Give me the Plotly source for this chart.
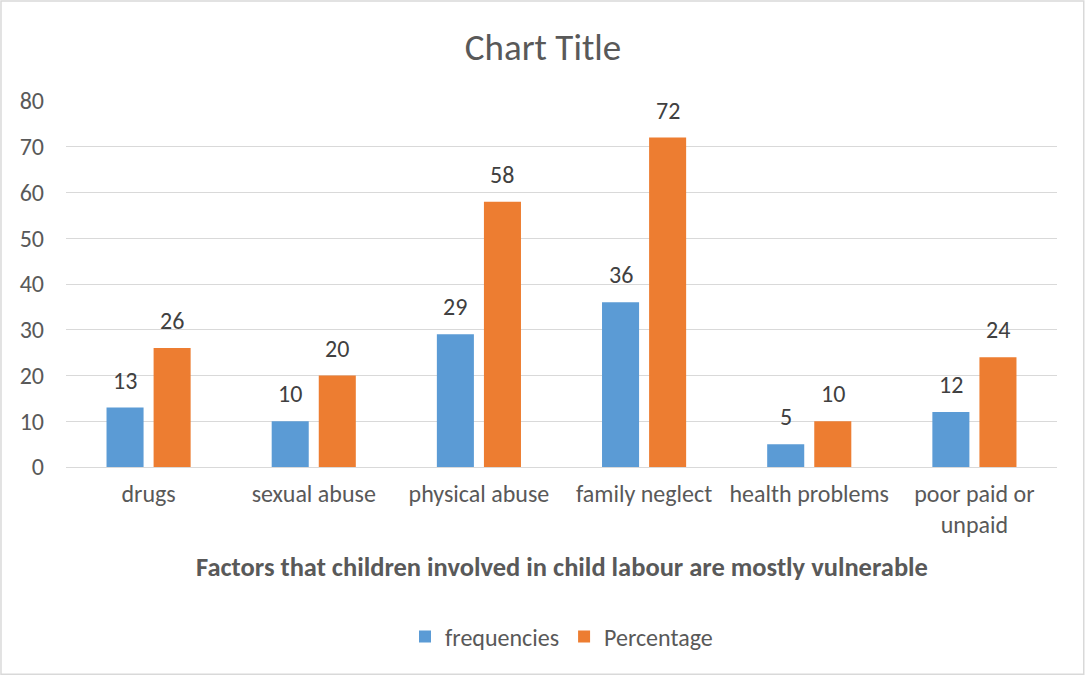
import plotly.graph_objects as go

categories = ["drugs", "sexual abuse", "physical abuse", "family neglect",
              "health problems", "poor paid or<br>unpaid"]
frequencies = [13, 10, 29, 36, 5, 12]
percentage = [26, 20, 58, 72, 10, 24]
y_ticks = [0, 10, 20, 30, 40, 50, 60, 70, 80]

FONT = "Carlito, Calibri, 'Open Sans', sans-serif"
TXT = "#595959"
BLUE = "#5B9BD5"
ORANGE = "#ED7D31"

fig = go.Figure()
fig.add_trace(go.Bar(name="frequencies", x=categories, y=frequencies,
                     marker=dict(color=BLUE, line=dict(width=0))))
fig.add_trace(go.Bar(name="Percentage", x=categories, y=percentage,
                     marker=dict(color=ORANGE, line=dict(width=0))))

# value labels above each bar
annotations = []
for series, shift in ((frequencies, -23.5), (percentage, 23.5)):
    for cat, val in zip(categories, series):
        annotations.append(dict(x=cat, y=val, xref="x", yref="y", text=str(val),
                                showarrow=False, xshift=shift, yshift=11,
                                yanchor="bottom",
                                font=dict(family=FONT, size=24, color="#404040")))

annotations.append(dict(x=0.5, y=-0.273, xref="paper", yref="paper",
                        text="<b>Factors that children involved in child labour are mostly vulnerable</b>",
                        showarrow=False, yanchor="middle",
                        font=dict(family=FONT, size=26.5, color=TXT)))

fig.update_layout(
    width=1086, height=676,
    margin=dict(l=66, r=29, t=101, b=209),
    paper_bgcolor="white", plot_bgcolor="white",
    barmode="group", bargap=0.43, bargroupgap=0.213,
    title=dict(text="Chart Title", x=0.5, xanchor="center", y=1 - 47 / 676,
               yanchor="middle", font=dict(family=FONT, size=37, color=TXT)),
    font=dict(family=FONT, color=TXT),
    xaxis=dict(showgrid=False, tickfont=dict(family=FONT, size=24, color=TXT),
               ticks="", showline=False, ticklabelstandoff=10),
    yaxis=dict(range=[0, 80], tickvals=y_ticks, showgrid=True,
               gridcolor="#D9D9D9", gridwidth=1, zeroline=True,
               zerolinecolor="#D9D9D9", zerolinewidth=1,
               tickfont=dict(family=FONT, size=24, color=TXT), ticks="",
               ticklabelstandoff=21),
    legend=dict(orientation="h", x=0.5, xanchor="center", y=-0.464,
                yanchor="middle", font=dict(family=FONT, size=24, color=TXT),
                itemwidth=30, tracegroupgap=0),
    annotations=annotations,
    shapes=[dict(type="rect", xref="paper", yref="paper",
                 x0=-0.0656, x1=1.027, y0=-0.566, y1=1.273,
                 line=dict(color="#D9D9D9", width=1.5))],
)

fig.write_html("out.html")
